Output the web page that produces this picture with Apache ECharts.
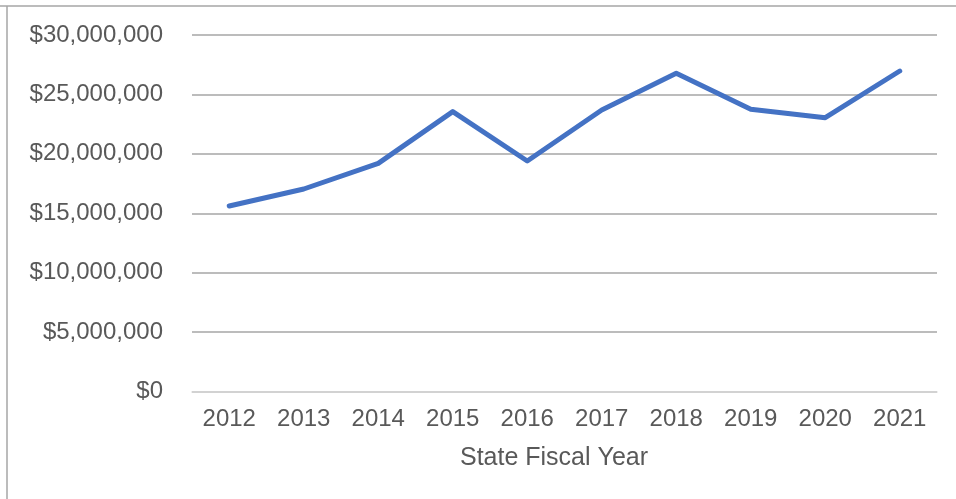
<!DOCTYPE html>
<html>
<head>
<meta charset="utf-8">
<script src="https://cdn.jsdelivr.net/npm/echarts@6/dist/echarts.min.js"></script>
<style>
  html, body { margin: 0; padding: 0; background: #fff; }
  #chart { width: 956px; height: 499px; }
</style>
</head>
<body>
<div id="chart"></div>
<script>
// Fiscal years on the category axis
const years = ['2012', '2013', '2014', '2015', '2016', '2017', '2018', '2019', '2020', '2021'];
// Annual amounts in dollars
const amounts = [15610000, 17040000, 19200000, 23550000, 19400000, 23690000, 26780000, 23750000, 23040000, 26970000];
// Value axis range and step
const yMin = 0;
const yMax = 30000000;
const yStep = 5000000;

const fmtDollar = v => '$' + Math.round(v).toLocaleString('en-US');

const chart = echarts.init(document.getElementById('chart'), null, { renderer: 'canvas' });
chart.setOption({
  animation: false,
  backgroundColor: '#ffffff',
  textStyle: { fontFamily: '"Liberation Sans", Arial, sans-serif' },
  grid: { left: 192, right: 19, top: 35, bottom: 107.5, containLabel: false },
  graphic: [
    { type: 'line', shape: { x1: 0, y1: 6, x2: 956, y2: 6 }, style: { stroke: '#a6a6a6', lineWidth: 1.5 } },
    { type: 'line', shape: { x1: 7, y1: 6, x2: 7, y2: 499 }, style: { stroke: '#a6a6a6', lineWidth: 1.5 } }
  ],
  xAxis: {
    type: 'category',
    data: years,
    boundaryGap: true,
    axisLine: { show: true, lineStyle: { color: '#d9d9d9', width: 1.5 } },
    axisTick: { show: false },
    axisLabel: { color: '#595959', fontSize: 24, margin: 16 },
    name: 'State Fiscal Year',
    nameLocation: 'middle',
    nameGap: 54,
    nameTextStyle: { color: '#595959', fontSize: 25, padding: [0, 21, 0, 0] }
  },
  yAxis: {
    type: 'value',
    min: yMin,
    max: yMax,
    interval: yStep,
    axisLine: { show: false },
    axisTick: { show: false },
    axisLabel: { color: '#595959', fontSize: 24, margin: 29, formatter: fmtDollar },
    splitLine: {
      show: true,
      lineStyle: { color: '#a6a6a6', width: 1.5 }
    }
  },
  series: [{
    type: 'line',
    data: amounts,
    symbol: 'none',
    lineStyle: { color: '#4472c4', width: 5, cap: 'round', join: 'round' },
    z: 5
  }]
});
</script>
</body>
</html>
